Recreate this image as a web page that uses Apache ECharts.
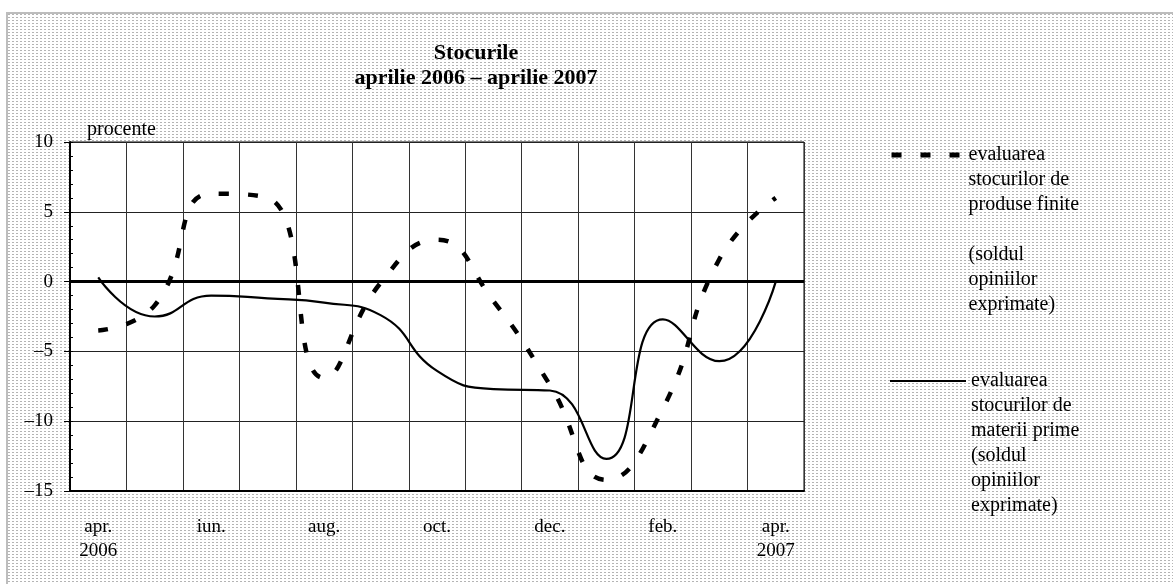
<!DOCTYPE html>
<html>
<head>
<meta charset="utf-8">
<script src="https://cdn.jsdelivr.net/npm/echarts@6/dist/echarts.min.js"></script>
<style>
  html, body { margin: 0; padding: 0; width: 1173px; height: 584px; overflow: hidden; background: #fff; }
  #frame {
    position: absolute; left: 6px; top: 12px; width: 1300px; height: 700px;
    border-top: 2px solid #bdbdbd; border-left: 2px solid #bdbdbd;
    background-color: #fff;
    background-image: linear-gradient(90deg, transparent 2px, #fff 2px), linear-gradient(#b4b4b4 1px, transparent 1px);
    background-size: 4px 3px;
  }
  #chart { position: absolute; left: 0; top: 0; width: 1173px; height: 584px; }
</style>
</head>
<body>
<div id="frame"></div>
<div id="chart"></div>
<script>
// months apr. 2006 - apr. 2007
const categories = ['apr.\n2006', 'mai', 'iun.', 'iul.', 'aug.', 'sep.', 'oct.', 'noi.', 'dec.', 'ian.', 'feb.', 'mar.', 'apr.\n2007'];

// sold opinii, procente
const produseFinite = [-3.5, -1.7, 6.3, 6.0, -6.9, -0.1, 3.0, -1.4, -7.4, -14.2, -9.1, 1.6, 6.0];
const materiiPrime = [0.3, -2.5, -1.0, -1.2, -1.5, -2.4, -6.4, -7.7, -7.8, -12.7, -2.7, -5.7, 0];

const yMin = -15;
const yMax = 10;
const yStep = 5;

const nameProduse = 'produse finite';
const nameMaterii = 'materii prime';
const legendProduse = ['evaluarea', 'stocurilor de', 'produse finite', '', '(soldul', 'opiniilor', 'exprimate)'];
const legendMaterii = ['evaluarea', 'stocurilor de', 'materii prime', '(soldul', 'opiniilor', 'exprimate)'];

const font = "'Liberation Serif', 'Times New Roman', serif";

const chart = echarts.init(document.getElementById('chart'), null, { renderer: 'canvas' });

// legend text is centred on the icon, so pad with empty lines above to put the first line level with it
const legendText = lines => '\n'.repeat(lines.length - 1) + lines.join('\n');
const legendStyle = { fontFamily: font, fontSize: 20, lineHeight: 25, color: '#000' };
const noSymbol = { color: 'transparent', borderColor: 'transparent', borderWidth: 0 };

const option = {
    backgroundColor: 'transparent',
    animation: false,
    title: {
        text: 'Stocurile\naprilie 2006 – aprilie 2007',
        left: 476,
        top: 41,
        padding: 0,
        textAlign: 'center',
        textStyle: { fontFamily: font, fontSize: 22, fontWeight: 'bold', lineHeight: 25, color: '#000' }
    },
    legend: [
        {
            data: [nameProduse],
            left: 889,
            top: 155 - 25 * (2 * legendProduse.length - 1) / 2,
            padding: 0,
            orient: 'vertical',
            itemWidth: 68,
            itemHeight: 14,
            selectedMode: false,
            itemStyle: noSymbol,
            lineStyle: { width: 5 },
            formatter: () => legendText(legendProduse),
            textStyle: Object.assign({ padding: [0, 0, 0, 4] }, legendStyle)
        },
        {
            data: [nameMaterii],
            left: 889,
            top: 381 - 25 * (2 * legendMaterii.length - 1) / 2,
            padding: 0,
            orient: 'vertical',
            itemWidth: 76,
            itemHeight: 14,
            selectedMode: false,
            itemStyle: noSymbol,
            formatter: () => legendText(legendMaterii),
            textStyle: legendStyle
        }
    ],
    grid: {
        left: 70,
        right: 369,
        top: 142,
        bottom: 93,
        show: true,
        backgroundColor: '#fff',
        borderColor: '#000',
        borderWidth: 1
    },
    xAxis: {
        type: 'category',
        data: categories,
        boundaryGap: true,
        axisLine: { show: true, onZero: false, lineStyle: { color: '#000', width: 2 } },
        axisTick: { show: false },
        splitLine: { show: true, interval: 0, lineStyle: { color: '#333', width: 1 } },
        axisLabel: {
            interval: 1,
            margin: 24,
            fontFamily: font,
            fontSize: 19,
            lineHeight: 24,
            color: '#000'
        }
    },
    yAxis: [
        {
            type: 'value',
            position: 'left',
            min: yMin,
            max: yMax,
            interval: yStep,
            name: 'procente',
            nameLocation: 'end',
            nameGap: 12,
            nameTextStyle: { fontFamily: font, fontSize: 20, color: '#000', align: 'left', verticalAlign: 'middle', padding: [0, 0, 0, 17] },
            axisLine: { show: true, lineStyle: { color: '#000', width: 2 } },
            axisTick: { show: true, inside: false, length: 6, lineStyle: { color: '#000' } },
            splitLine: { show: true, lineStyle: { color: '#222', width: 1 } },
            axisLabel: {
                margin: 17,
                fontFamily: font,
                fontSize: 19,
                color: '#000',
                formatter: v => (v < 0 ? '–' + Math.abs(v) : String(v))
            }
        },
        {
            // minor ticks inside the plot
            type: 'value',
            position: 'left',
            min: yMin,
            max: yMax,
            interval: 1,
            axisLine: { show: false },
            axisTick: { show: true, inside: true, length: 3, lineStyle: { color: '#000' } },
            axisLabel: { show: false },
            splitLine: { show: false }
        }
    ],
    series: [
        {
            name: nameMaterii,
            type: 'line',
            data: materiiPrime,
            smooth: true,
            symbol: 'none',
            lineStyle: { color: '#000', width: 2.2 },
            itemStyle: { color: '#000' },
            markLine: {
                silent: true,
                symbol: 'none',
                label: { show: false },
                lineStyle: { color: '#000', width: 3, type: 'solid' },
                data: [{ yAxis: 0 }]
            }
        },
        {
            name: nameProduse,
            type: 'line',
            data: produseFinite,
            smooth: true,
            symbol: 'none',
            lineStyle: { color: '#000', width: 4.5, type: [10, 19], cap: 'butt' },
            itemStyle: { color: '#000' },
            z: 3
        }
    ]
};

chart.setOption(option);
</script>
</body>
</html>
